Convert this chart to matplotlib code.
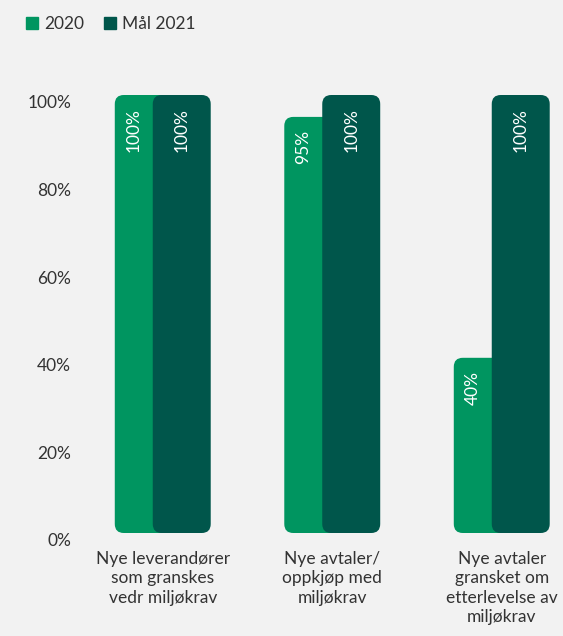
import matplotlib.pyplot as plt
import matplotlib.transforms as mtransforms
from matplotlib.patches import FancyBboxPatch
from matplotlib.lines import Line2D
import numpy as np

plt.rcParams['font.family'] = ['Lato', 'DejaVu Sans']

categories = ["Nye leverandører\nsom granskes\nvedr miljøkrav",
              "Nye avtaler/\noppkjøp med\nmiljøkrav",
              "Nye avtaler\ngransket om\netterlevelse av\nmiljøkrav"]
values_2020 = [100, 95, 40]
values_2021 = [100, 100, 100]
series_names = ["2020", "Mål 2021"]
yticks = [0, 20, 40, 60, 80, 100]

green = "#009560"
dark = "#00564b"
bg = "#f2f2f2"
text_col = "#333333"

W, H = 563, 636
fig = plt.figure(figsize=(W / 100, H / 100), dpi=100, facecolor=bg)
ax = fig.add_axes([78 / W, 103 / H, (W - 78) / W, 438 / H])
ax.set_facecolor(bg)

x = np.arange(len(categories))
width = 0.342
shift = 0.112
ax.set_xlim(-0.5, -0.5 + (W - 78) / 169.5)
ax.set_ylim(0, 100)

bars_a = ax.bar(x - shift, values_2020, width, color=green, zorder=2)
bars_b = ax.bar(x + shift, values_2021, width, color=dark, zorder=3)

# swap plain rectangles for rounded ones
fig.canvas.draw()
px_x = ax.transData.transform([(1, 0)])[0][0] - ax.transData.transform([(0, 0)])[0][0]
px_y = ax.transData.transform([(0, 1)])[0][1] - ax.transData.transform([(0, 0)])[0][1]
aspect = px_x / px_y
radius = 9 / px_x
for bars in (bars_a, bars_b):
    for b in bars:
        fb = FancyBboxPatch((b.get_x(), b.get_y()), b.get_width(), b.get_height(),
                            boxstyle=f"round,pad=0,rounding_size={radius}",
                            mutation_aspect=aspect, facecolor=b.get_facecolor(),
                            edgecolor="none", zorder=b.get_zorder(), clip_on=False)
        b.set_visible(False)
        ax.add_patch(fb)

# value labels inside the bars
drop = 13 / px_y
for i in range(len(categories)):
    ga = bars_a[i].get_x()
    gb = bars_b[i].get_x()
    ax.text((ga + gb) / 2, values_2020[i] - drop, f"{values_2020[i]}%",
            rotation=90, ha="center", va="top", color="white", fontsize=12.5, zorder=5)
    ax.text(x[i] + shift, values_2021[i] - drop, f"{values_2021[i]}%",
            rotation=90, ha="center", va="top", color="white", fontsize=12.5, zorder=5)

ax.set_yticks(yticks)
ax.set_yticklabels([f"{t}%" for t in yticks])
ax.set_xticks(x)
ax.set_xticklabels(categories, linespacing=1.25)
ax.tick_params(axis="y", length=0, pad=5, labelsize=12.5, labelcolor=text_col)
ax.tick_params(axis="x", length=0, pad=13, labelsize=12.5, labelcolor=text_col)
offset = mtransforms.ScaledTranslation(0, -7 / 100, fig.dpi_scale_trans)
for lab in ax.get_yticklabels():
    lab.set_transform(lab.get_transform() + offset)
for s in ax.spines.values():
    s.set_visible(False)

handles = [Line2D([], [], marker="s", linestyle="none", markersize=9, color=c)
           for c in (green, dark)]
fig.legend(handles, series_names, loc="upper left", bbox_to_anchor=(0.019, 1.0),
           ncol=2, frameon=False, fontsize=12.5, handlelength=0.7,
           handletextpad=0.35, columnspacing=1.1, labelcolor=text_col)

fig.savefig("out.png", dpi=100, facecolor=bg)
